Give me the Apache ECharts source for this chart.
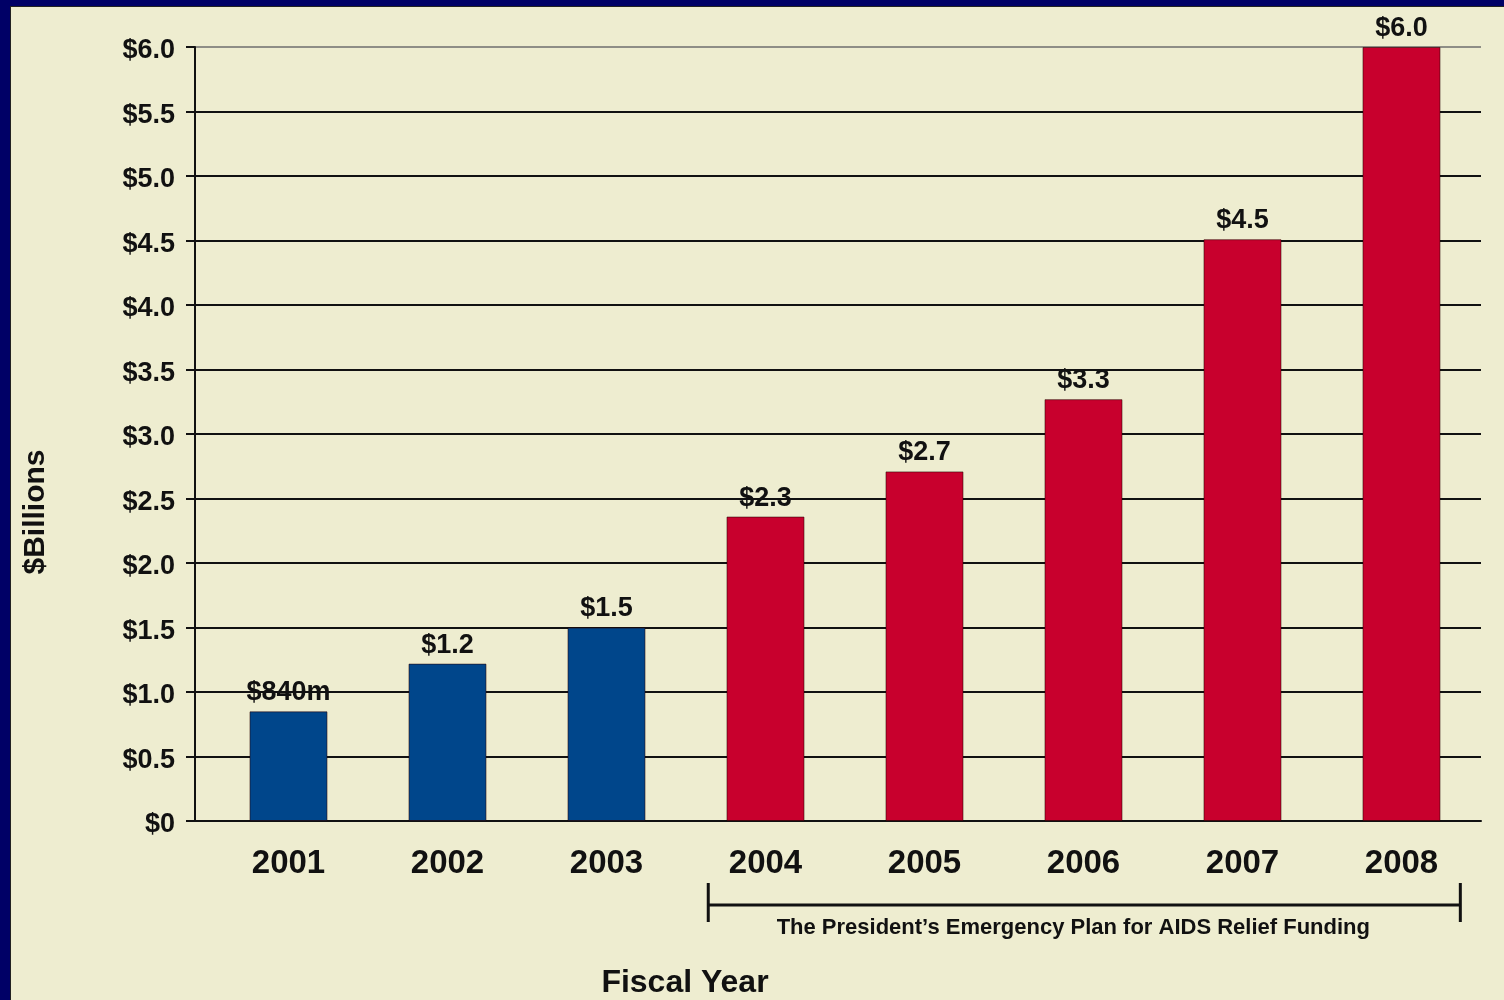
<!DOCTYPE html>
<html>
<head>
<meta charset="utf-8">
<script src="https://cdn.jsdelivr.net/npm/echarts@6/dist/echarts.min.js"></script>
<style>
  html, body { margin: 0; padding: 0; background: #000066; width: 1504px; height: 1000px; overflow: hidden; }
  #chart { position: absolute; left: 10px; top: 6px; width: 1494px; height: 994px; background: #EEEDD0; box-shadow: inset 1px 1px 0 #222; }
</style>
</head>
<body>
<div id="chart"></div>
<script>
// ---- data ----
var years = ['2001', '2002', '2003', '2004', '2005', '2006', '2007', '2008'];
var funding = [0.85, 1.22, 1.50, 2.36, 2.71, 3.27, 4.51, 6.00];
var valueLabels = ['$840m', '$1.2', '$1.5', '$2.3', '$2.7', '$3.3', '$4.5', '$6.0'];
var yTicks = [0, 0.5, 1, 1.5, 2, 2.5, 3, 3.5, 4, 4.5, 5, 5.5, 6];
var pepfarStartYear = '2004';
var pepfarEndYear = '2008';
var yAxisTitle = '$Billions';
var xAxisTitle = 'Fiscal Year';
var bracketLabel = 'The President\u2019s Emergency Plan for AIDS Relief Funding';

var BLUE = '#00468B';
var RED = '#C8002D';
var FONT = '"Liberation Sans", Arial, Helvetica, sans-serif';

var pepfarStartIdx = years.indexOf(pepfarStartYear);
var pepfarEndIdx = years.indexOf(pepfarEndYear);

var chart = echarts.init(document.getElementById('chart'), null, { renderer: 'canvas' });

var splitColors = yTicks.map(function (v, i) { return i === yTicks.length - 1 ? '#8E8E86' : '#111111'; });

var option = {
  backgroundColor: 'transparent',
  animation: false,
  grid: { left: 185, right: 23, top: 41, bottom: 179, containLabel: false },
  xAxis: {
    type: 'value',
    min: -0.588,
    max: 7.5,
    axisLine: { show: true, onZero: false, lineStyle: { color: '#111', width: 2 } },
    axisTick: { show: false },
    splitLine: { show: false },
    axisLabel: {
      customValues: years.map(function (y, i) { return i; }),
      formatter: function (v) { return years[Math.round(v)] || ''; },
      color: '#111',
      fontFamily: FONT,
      fontWeight: 'bold',
      fontSize: 33,
      margin: 26
    }
  },
  yAxis: {
    type: 'value',
    min: 0,
    max: 6,
    interval: 0.5,
    axisLine: { show: true, onZero: false, lineStyle: { color: '#111', width: 2 } },
    axisTick: { show: true, inside: false, length: 9, lineStyle: { color: '#111', width: 2 } },
    splitLine: { show: true, lineStyle: { color: splitColors, width: 2 } },
    axisLabel: {
      formatter: function (v) { return '{t|' + (v === 0 ? '$0' : '$' + v.toFixed(1)) + '}'; },
      margin: 20,
      rich: {
        t: { color: '#111', fontFamily: FONT, fontWeight: 'bold', fontSize: 27, padding: [8, 0, 0, 0] }
      }
    }
  },
  series: [{
    type: 'bar',
    data: funding.map(function (v, i) { return [i, v]; }),
    barWidth: 78,
    itemStyle: {
      color: function (p) { return p.dataIndex < pepfarStartIdx ? BLUE : RED; },
      borderColor: 'rgba(40,0,0,0.55)',
      borderWidth: 1
    },
    label: {
      show: true,
      position: 'top',
      distance: 5,
      formatter: function (p) { return valueLabels[p.dataIndex]; },
      color: '#111',
      fontFamily: FONT,
      fontWeight: 'bold',
      fontSize: 27
    }
  }]
};
chart.setOption(option);

// annotations positioned from the axis scale
var bx1 = chart.convertToPixel({ xAxisIndex: 0 }, pepfarStartIdx - 0.36);
var bx2 = chart.convertToPixel({ xAxisIndex: 0 }, pepfarEndIdx + 0.37);
chart.setOption({
  graphic: [
    { type: 'line', shape: { x1: bx1, y1: 877, x2: bx1, y2: 916 }, style: { stroke: '#111', lineWidth: 3 } },
    { type: 'line', shape: { x1: bx2, y1: 877, x2: bx2, y2: 916 }, style: { stroke: '#111', lineWidth: 3 } },
    { type: 'line', shape: { x1: bx1, y1: 899, x2: bx2, y2: 899 }, style: { stroke: '#111', lineWidth: 3 } },
    { type: 'text', x: (bx1 + bx2) / 2 - 11, y: 922, style: { text: bracketLabel, fill: '#111', font: 'bold 22px ' + FONT, textAlign: 'center', textVerticalAlign: 'middle' } },
    { type: 'text', x: 675, y: 977, style: { text: xAxisTitle, fill: '#111', font: 'bold 32px ' + FONT, textAlign: 'center', textVerticalAlign: 'middle' } },
    { type: 'text', x: 26, y: 506, rotation: Math.PI / 2, style: { text: yAxisTitle, fill: '#111', font: 'bold 30px ' + FONT, textAlign: 'center', textVerticalAlign: 'middle' } }
  ]
});
</script>
</body>
</html>
